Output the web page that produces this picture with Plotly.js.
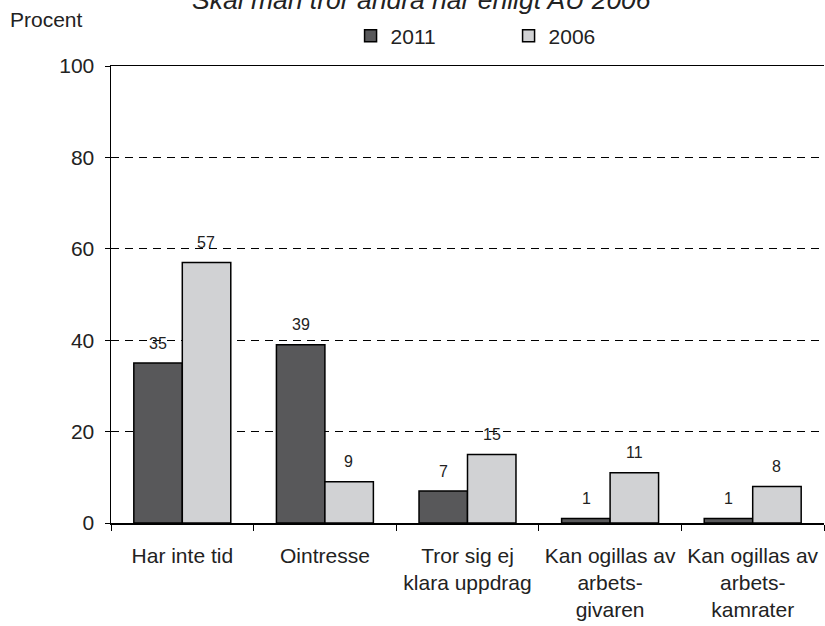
<!DOCTYPE html>
<html>
<head>
<meta charset="utf-8">
<script src="https://cdn.plot.ly/plotly-3.0.1.min.js"></script>
<style>html,body{margin:0;padding:0;background:#fff;}#chart{width:825px;height:626px;}</style>
</head>
<body>
<div id="chart"></div>
<script>
const categories = [
  "Har inte tid",
  "Ointresse",
  "Tror sig ej<br>klara uppdrag",
  "Kan ogillas av<br>arbets-<br>givaren",
  "Kan ogillas av<br>arbets-<br>kamrater"
];
const values2011 = [35, 39, 7, 1, 1];
const values2006 = [57, 9, 15, 11, 8];
const seriesNames = ["2011", "2006"];
const titleText = "Skäl man tror andra har enligt AU 2006";
const yTitleText = "Procent";

const FONT = "Liberation Sans, Arial, sans-serif";

const traces = [
  {type: "bar", name: seriesNames[0], x: categories, y: values2011,
   marker: {color: "#58585a", line: {color: "#000", width: 1.5}}},
  {type: "bar", name: seriesNames[1], x: categories, y: values2006,
   marker: {color: "#d1d2d4", line: {color: "#000", width: 1.5}}}
];

const annotations = [];
categories.forEach((c, i) => {
  annotations.push({x: c, y: values2011[i], xref: "x", yref: "y", text: String(values2011[i]),
    showarrow: false, xshift: -24, yshift: 20, yanchor: "middle",
    font: {family: FONT, size: 16, color: "#222"}});
  annotations.push({x: c, y: values2006[i], xref: "x", yref: "y", text: String(values2006[i]),
    showarrow: false, xshift: 24, yshift: 20, yanchor: "middle",
    font: {family: FONT, size: 16, color: "#222"}});
});
annotations.push({text: yTitleText, xref: "paper", yref: "paper", x: -0.1445, y: 1.1007,
  xanchor: "left", yanchor: "middle", showarrow: false,
  font: {family: FONT, size: 21, color: "#222"}});
annotations.push({text: titleText, xref: "paper", yref: "paper", x: 0.4355, y: 1.1444,
  xanchor: "center", yanchor: "middle", showarrow: false,
  font: {family: FONT, size: 26.5, style: "italic", color: "#222"}});

const layout = {
  width: 825, height: 626,
  margin: {l: 111, r: 1, t: 66, b: 103, pad: 0},
  paper_bgcolor: "#fff", plot_bgcolor: "#fff",
  font: {family: FONT, size: 21, color: "#222"},
  barmode: "group", bargap: 0.32, bargroupgap: 0,
  showlegend: true,
  legend: {orientation: "h", x: 0.336, xanchor: "left", y: 1.0656, yanchor: "middle",
           entrywidth: 113, itemwidth: 30, font: {family: FONT, size: 21, color: "#222"},
           bgcolor: "rgba(0,0,0,0)"},
  xaxis: {type: "category", tickson: "boundaries", ticks: "outside", ticklen: 6, tickcolor: "#000",
          showline: true, linecolor: "#000", linewidth: 1.5, mirror: true, showgrid: false,
          tickangle: 0, automargin: false,
          tickfont: {family: FONT, size: 21, color: "#222"}, ticklabelstandoff: 13},
  yaxis: {range: [0, 100], dtick: 20, ticks: "outside", ticklen: 5, tickcolor: "#000",
          showline: true, linecolor: "#000", linewidth: 1.5, zeroline: false,
          showgrid: true, gridcolor: "#000", gridwidth: 1, griddash: "8px,6px",
          tickfont: {family: FONT, size: 21, color: "#222"}, ticklabelstandoff: 6},
  annotations: annotations
};

Plotly.newPlot("chart", traces, layout, {displayModeBar: false, staticPlot: true});
</script>
</body>
</html>
